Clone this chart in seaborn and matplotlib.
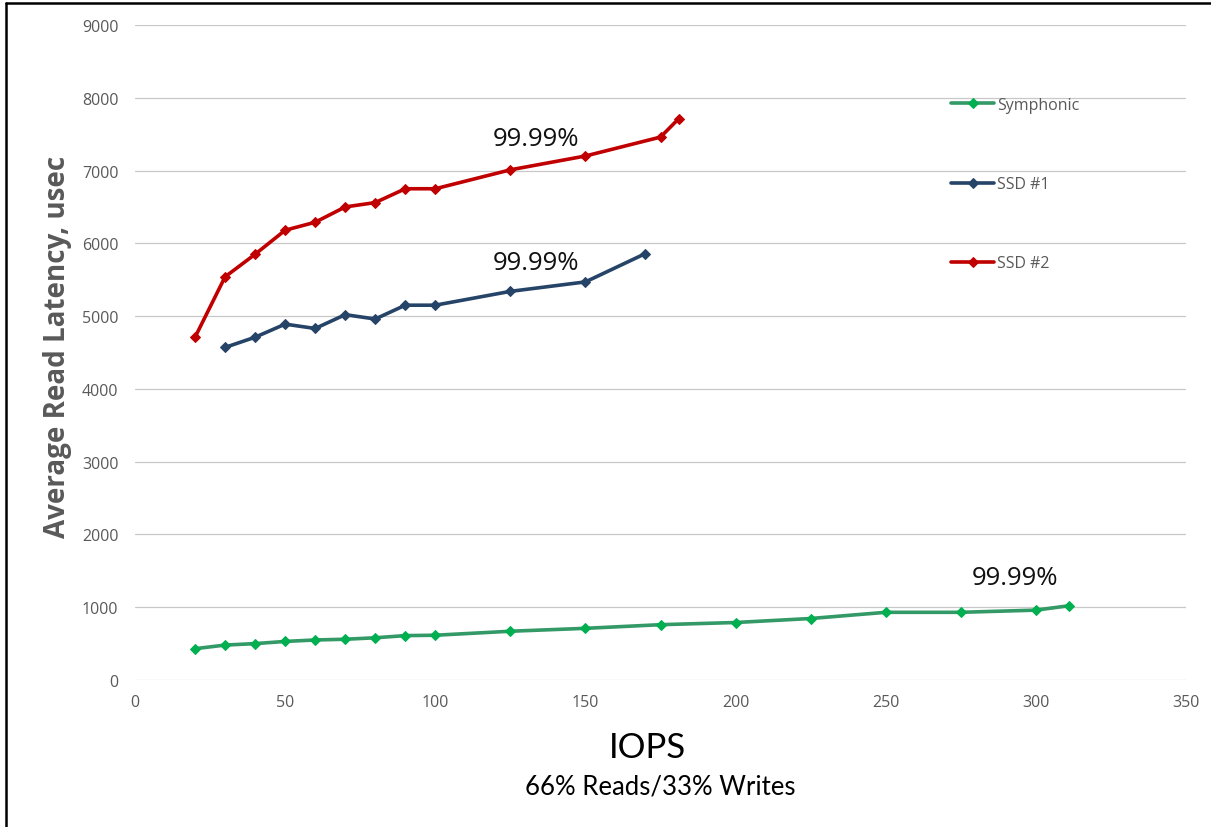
import matplotlib
matplotlib.use("Agg")
import matplotlib.pyplot as plt
from matplotlib.lines import Line2D
import seaborn as sns
import pandas as pd

# IOPS sample points and average read latency (usec) per device
symphonic_iops = [20, 30, 40, 50, 60, 70, 80, 90, 100, 125, 150, 175, 200, 225, 250, 275, 300, 311]
symphonic_lat = [430, 480, 500, 530, 550, 560, 580, 610, 615, 670, 710, 760, 790, 845, 930, 930, 960, 1020]

ssd1_iops = [30, 40, 50, 60, 70, 80, 90, 100, 125, 150, 170]
ssd1_lat = [4570, 4710, 4890, 4830, 5020, 4960, 5150, 5150, 5340, 5470, 5860]

ssd2_iops = [20, 30, 40, 50, 60, 70, 80, 90, 100, 125, 150, 175, 181]
ssd2_lat = [4710, 5540, 5850, 6180, 6290, 6500, 6560, 6750, 6750, 7010, 7200, 7460, 7710]

series_names = ["Symphonic", "SSD #1", "SSD #2"]
x_ticks = [0, 50, 100, 150, 200, 250, 300, 350]
y_ticks = [0, 1000, 2000, 3000, 4000, 5000, 6000, 7000, 8000, 9000]

percentile_label = "99.99%"
x_title = "IOPS"
x_subtitle = "66% Reads/33% Writes"
y_title = "Average Read Latency, usec"

sns.set_theme(style="white")
plt.rcParams["font.family"] = ["Open Sans", "DejaVu Sans"]

fig = plt.figure(figsize=(12.11, 8.28), dpi=100)
ax = fig.add_axes([135 / 1211, 1 - 681 / 828, (1186 - 135) / 1211, (681 - 26) / 828])

styles = [
    dict(color="#339966", mfc="#00b050", mec="#00b050"),
    dict(color="#264468", mfc="#264468", mec="#264468"),
    dict(color="#c00000", mfc="#c00000", mec="#c00000"),
]
data = [(symphonic_iops, symphonic_lat), (ssd1_iops, ssd1_lat), (ssd2_iops, ssd2_lat)]

for name, (xs, ys), st in zip(series_names, data, styles):
    df = pd.DataFrame({"IOPS": xs, "Latency": ys})
    sns.lineplot(data=df, x="IOPS", y="Latency", ax=ax, color=st["color"],
                 linewidth=2.6, marker="D", markersize=5.5,
                 markerfacecolor=st["mfc"], markeredgecolor=st["mec"],
                 label=name, sort=False)

ax.set_xlim(0, 350)
ax.set_ylim(0, 9000)
ax.set_xticks(x_ticks)
ax.set_yticks(y_ticks)
ax.set_xticklabels([str(v) for v in x_ticks])
ax.set_yticklabels([str(v) for v in y_ticks])
ax.tick_params(axis="both", length=0, labelsize=11.5, labelcolor="#595959")
ax.tick_params(axis="y", pad=12)
ax.tick_params(axis="x", pad=10)
ax.yaxis.grid(True, color="#c8c8c8", linewidth=0.9)
ax.xaxis.grid(False)
for s in ax.spines.values():
    s.set_visible(False)
ax.set_xlabel("")
ax.set_ylabel("")

# Percentile annotations
ax.text(133.5, 7447, percentile_label, ha="center", va="center", fontsize=18.5, color="#111111")
ax.text(133.5, 5730, percentile_label, ha="center", va="center", fontsize=18.5, color="#111111")
ax.text(293, 1415, percentile_label, ha="center", va="center", fontsize=18.5, color="#111111")

leg = ax.legend(loc="upper left", bbox_to_anchor=(951 / 1211, 1 - 98 / 828),
                bbox_transform=fig.transFigure, frameon=False, borderpad=0,
                borderaxespad=0, fontsize=11.5, labelspacing=3.95, handlelength=2.7,
                handletextpad=0.2, labelcolor="#595959")

fig.text(58 / 1211, 1 - 347 / 828, y_title, rotation=90, ha="center", va="center",
         fontsize=20, fontweight="bold", color="#595959")
fig.text(647 / 1211, 1 - 748 / 828, x_title, ha="center", va="center",
         fontsize=25, color="#000000", family=["Lato", "DejaVu Sans"])
fig.text(660 / 1211, 1 - 787 / 828, x_subtitle, ha="center", va="center",
         fontsize=18.5, color="#000000", family=["Lato", "DejaVu Sans"])

# Frame lines along the top and left edges of the figure
fig.add_artist(Line2D([6 / 1211, 1.0], [1 - 3.5 / 828, 1 - 3.5 / 828],
                      transform=fig.transFigure, color="black", linewidth=1.8))
fig.add_artist(Line2D([6 / 1211, 6 / 1211], [0.0, 1 - 3.5 / 828],
                      transform=fig.transFigure, color="black", linewidth=1.8))

fig.savefig("out.png", dpi=100, facecolor="white")
